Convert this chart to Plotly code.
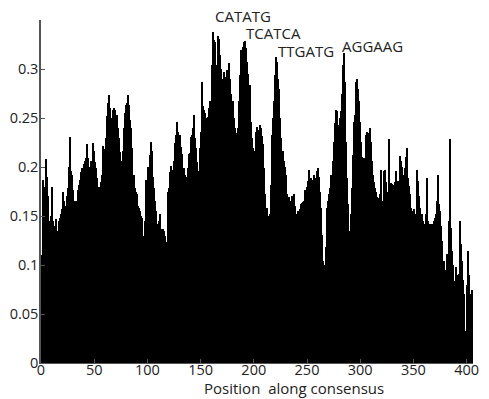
import plotly.graph_objects as go

# --- data ---
values = [
    0.110, 0.187, 0.175, 0.180, 0.208, 0.190, 0.170, 0.145, 0.150, 0.180,  # 1-10
    0.145, 0.140, 0.138, 0.147, 0.128, 0.135, 0.145, 0.148, 0.152, 0.157,  # 11-20
    0.175, 0.165, 0.160, 0.170, 0.179, 0.200, 0.231, 0.196, 0.192, 0.177,  # 21-30
    0.158, 0.165, 0.165, 0.164, 0.177, 0.182, 0.187, 0.195, 0.199, 0.203,  # 31-40
    0.206, 0.209, 0.223, 0.209, 0.200, 0.197, 0.206, 0.195, 0.225, 0.216,  # 41-50
    0.205, 0.199, 0.189, 0.175, 0.180, 0.185, 0.192, 0.221, 0.218, 0.216,  # 51-60
    0.230, 0.252, 0.265, 0.273, 0.260, 0.245, 0.250, 0.258, 0.260, 0.258,  # 61-70
    0.253, 0.240, 0.230, 0.215, 0.206, 0.199, 0.216, 0.240, 0.255, 0.263,  # 71-80
    0.265, 0.273, 0.263, 0.248, 0.240, 0.219, 0.192, 0.179, 0.175, 0.172,  # 81-90
    0.160, 0.158, 0.155, 0.150, 0.148, 0.130, 0.111, 0.145, 0.187, 0.186,  # 91-100
    0.200, 0.212, 0.226, 0.216, 0.190, 0.179, 0.165, 0.155, 0.138, 0.142,  # 101-110
    0.145, 0.152, 0.137, 0.135, 0.137, 0.135, 0.130, 0.123, 0.175, 0.179,  # 111-120
    0.195, 0.201, 0.197, 0.192, 0.206, 0.225, 0.233, 0.246, 0.236, 0.230,  # 121-130
    0.233, 0.220, 0.213, 0.199, 0.192, 0.189, 0.190, 0.199, 0.213, 0.214,  # 131-140
    0.231, 0.233, 0.240, 0.253, 0.230, 0.219, 0.205, 0.196, 0.219, 0.236,  # 141-150
    0.287, 0.262, 0.258, 0.255, 0.250, 0.236, 0.251, 0.260, 0.267, 0.265,  # 151-160
    0.304, 0.338, 0.330, 0.328, 0.304, 0.334, 0.331, 0.314, 0.300, 0.289,  # 161-170
    0.290, 0.297, 0.287, 0.292, 0.299, 0.280, 0.306, 0.290, 0.275, 0.267,  # 171-180
    0.250, 0.240, 0.230, 0.235, 0.240, 0.267, 0.294, 0.319, 0.316, 0.322,  # 181-190
    0.328, 0.329, 0.321, 0.307, 0.295, 0.284, 0.246, 0.230, 0.219, 0.216,  # 191-200
    0.192, 0.236, 0.241, 0.238, 0.236, 0.243, 0.240, 0.232, 0.223, 0.199,  # 201-210
    0.172, 0.158, 0.150, 0.142, 0.152, 0.182, 0.233, 0.250, 0.267, 0.294,  # 211-220
    0.312, 0.307, 0.290, 0.280, 0.250, 0.230, 0.216, 0.206, 0.200, 0.192,  # 221-230
    0.172, 0.158, 0.169, 0.153, 0.165, 0.170, 0.165, 0.172, 0.160, 0.152,  # 231-240
    0.131, 0.155, 0.157, 0.162, 0.163, 0.164, 0.165, 0.177, 0.169, 0.180,  # 241-250
    0.186, 0.197, 0.186, 0.189, 0.187, 0.186, 0.192, 0.189, 0.196, 0.199,  # 251-260
    0.190, 0.175, 0.158, 0.131, 0.104, 0.094, 0.100, 0.118, 0.158, 0.165,  # 261-270
    0.172, 0.179, 0.192, 0.206, 0.226, 0.245, 0.258, 0.257, 0.243, 0.243,  # 271-280
    0.250, 0.257, 0.274, 0.304, 0.316, 0.287, 0.226, 0.189, 0.162, 0.135,  # 281-290
    0.152, 0.179, 0.212, 0.246, 0.253, 0.287, 0.290, 0.280, 0.267, 0.246,  # 291-300
    0.226, 0.210, 0.182, 0.209, 0.233, 0.236, 0.229, 0.235, 0.240, 0.226,  # 301-310
    0.206, 0.192, 0.185, 0.179, 0.175, 0.169, 0.164, 0.168, 0.172, 0.197,  # 311-320
    0.165, 0.196, 0.197, 0.185, 0.175, 0.172, 0.229, 0.182, 0.184, 0.183,  # 321-330
    0.182, 0.177, 0.185, 0.196, 0.158, 0.186, 0.211, 0.206, 0.200, 0.192,  # 331-340
    0.186, 0.199, 0.210, 0.219, 0.189, 0.181, 0.172, 0.158, 0.155, 0.155,  # 341-350
    0.157, 0.152, 0.197, 0.186, 0.170, 0.158, 0.131, 0.152, 0.145, 0.142,  # 351-360
    0.138, 0.152, 0.189, 0.145, 0.142, 0.142, 0.142, 0.142, 0.145, 0.148,  # 361-370
    0.152, 0.165, 0.192, 0.162, 0.155, 0.140, 0.125, 0.088, 0.104, 0.095,  # 371-380
    0.091, 0.111, 0.145, 0.229, 0.138, 0.114, 0.100, 0.084, 0.077, 0.098,  # 381-390
    0.090, 0.084, 0.091, 0.145, 0.121, 0.104, 0.085, 0.070, 0.033, 0.080,  # 391-400
    0.114, 0.090, 0.050, 0.070, 0.074,                                      # 401-405
]
positions = list(range(1, len(values) + 1))

x_tick_vals = [0, 50, 100, 150, 200, 250, 300, 350, 400]
x_tick_text = ["0", "50", "100", "150", "200", "250", "300", "350", "400"]
y_tick_vals = [0, 0.05, 0.1, 0.15, 0.2, 0.25, 0.3]
y_tick_text = ["0", "0.05", "0.1", "0.15", "0.2", "0.25", "0.3"]

# motif labels, each placed at the peak (position) it names
motif_labels = ["CATATG", "TCATCA", "TTGATG", "AGGAAG"]
motif_pos = [162, 191, 221, 281]
motif_shift = [16, 8, 6, 7]

x_title = "Position\u00a0 along consensus"

FONT = "Open Sans, Liberation Sans, sans-serif"
TXT = "#222222"
AX = "#555555"

fig = go.Figure()
fig.add_trace(go.Bar(
    x=positions, y=values,
    marker=dict(color="#000000", line=dict(width=0)),
    width=1.0,
    hoverinfo="x+y",
))

for lab, mp, sh in zip(motif_labels, motif_pos, motif_shift):
    peak = max(values[mp - 5:mp + 5])
    fig.add_annotation(
        x=mp, y=peak, xref="x", yref="y", text=lab, showarrow=False,
        xanchor="left", yanchor="middle", yshift=sh,
        font=dict(family=FONT, size=15, color=TXT),
    )

fig.add_annotation(
    x=0.585, y=0, xref="paper", yref="paper", text=x_title, showarrow=False,
    xanchor="center", yanchor="middle", yshift=-25,
    font=dict(family=FONT, size=15, color=TXT),
)

fig.update_layout(
    width=489, height=399,
    margin=dict(l=40, r=10, t=20, b=36),
    paper_bgcolor="white", plot_bgcolor="white",
    bargap=0, showlegend=False,
    font=dict(family=FONT, size=14.5, color=TXT),
)
fig.update_xaxes(
    range=[0, 406], tickvals=x_tick_vals, ticktext=x_tick_text,
    showline=True, linecolor=AX, linewidth=1,
    ticks="inside", ticklen=4, tickcolor=AX,
    ticklabelstandoff=-6,
    showgrid=False, zeroline=False,
    tickfont=dict(family=FONT, size=14.5, color=TXT),
)
fig.update_yaxes(
    range=[0, 0.35], tickvals=y_tick_vals, ticktext=y_tick_text,
    showline=True, linecolor=AX, linewidth=1.5,
    ticks="inside", ticklen=4, tickcolor=AX,
    ticklabelstandoff=-2,
    showgrid=False, zeroline=False,
    tickfont=dict(family=FONT, size=14.5, color=TXT),
)

fig.write_html("out.html")
